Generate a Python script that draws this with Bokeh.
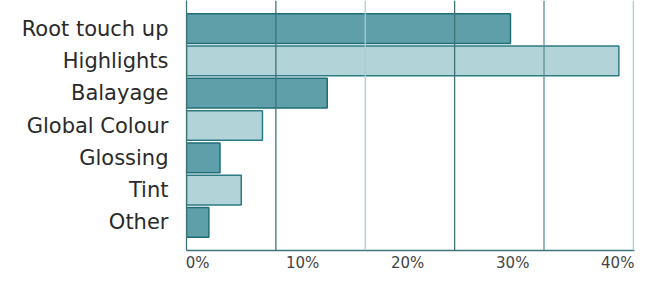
import numpy as np
from bokeh.plotting import figure
from bokeh.models import Range1d, FactorRange, Span, FixedTicker, ColumnDataSource
from bokeh.embed import file_html
from bokeh.resources import INLINE

categories = ["Root touch up", "Highlights", "Balayage", "Global Colour", "Glossing", "Tint", "Other"]
values = [29.0, 38.7, 12.6, 6.8, 3.0, 4.9, 2.0]
tick_labels = ["0%", "10%", "20%", "30%", "40%"]
grid_values = [8, 16, 24, 32, 40]

dark_fill, light_fill = "#5e9fa9", "#b2d3d7"
dark_line, light_line = "#1f6e76", "#2b7b84"
fills = [dark_fill if i % 2 == 0 else light_fill for i in range(len(categories))]
lines = [dark_line if i % 2 == 0 else light_line for i in range(len(categories))]
grid_colors = ["#3f7478", "#a9cdd1", "#3f7478", "#5a8f96", "#a9cdd1"]

src = ColumnDataSource(dict(cat=categories, val=values, fill=fills, line=lines))

p = figure(width=650, height=299, output_backend="svg", toolbar_location=None,
           x_range=Range1d(0, 40.1),
           y_range=FactorRange(*categories[::-1], range_padding=0.105, range_padding_units="percent"),
           min_border_left=186, min_border_right=16, min_border_top=0, min_border_bottom=49)
p.outline_line_color = None
p.xgrid.visible = False
p.ygrid.visible = False

for gv, gc in zip(grid_values, grid_colors):
    p.add_layout(Span(location=gv, dimension="height", line_color=gc, line_width=1.3))

p.hbar(y="cat", right="val", left=0, height=0.92, source=src,
       fill_color="fill", line_color="line", line_width=1.5)

# justified tick label layout across the axis
pad = 1.0
tick_pos = list(np.linspace(pad, 40 - 1.4, len(tick_labels)))
p.xaxis.ticker = FixedTicker(ticks=tick_pos)
p.xaxis.major_label_overrides = {float(t): l for t, l in zip(tick_pos, tick_labels)}
p.xaxis.major_tick_line_color = None
p.xaxis.minor_tick_line_color = None
p.xaxis.axis_line_color = "#3f7478"
p.xaxis.axis_line_width = 1.3
p.xaxis.major_label_text_font = "DejaVu Sans"
p.xaxis.major_label_text_font_size = "15px"
p.xaxis.major_label_text_color = "#444444"
p.xaxis.major_label_standoff = -3

p.yaxis.major_tick_line_color = None
p.yaxis.major_tick_out = 0
p.yaxis.axis_line_color = "#3f7478"
p.yaxis.axis_line_width = 1.3
p.yaxis.major_label_text_font = "DejaVu Sans"
p.yaxis.major_label_text_font_size = "21px"
p.yaxis.major_label_text_color = "#2a2a2a"
p.yaxis.major_label_standoff = 18

open("out.html", "w").write(file_html(p, INLINE))
